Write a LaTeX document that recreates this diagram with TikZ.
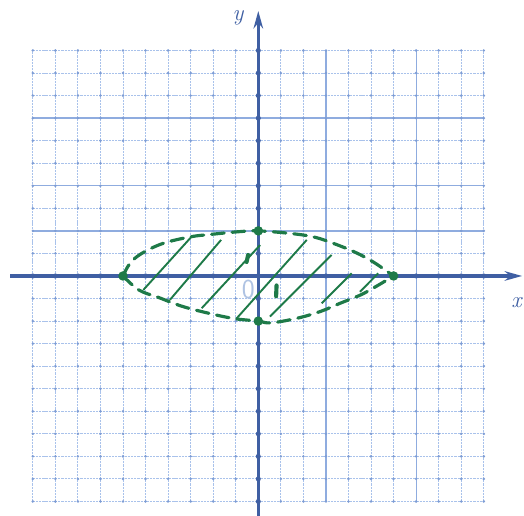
\documentclass[tikz,border=0pt]{standalone}
\usetikzlibrary{arrows.meta}
\definecolor{gridc}{HTML}{A9C2EB}
\definecolor{gridd}{HTML}{8FACDF}
\definecolor{dotc}{HTML}{7E9DD5}
\definecolor{axisc}{HTML}{3F5FA3}
\definecolor{greenc}{HTML}{1E7A48}
\definecolor{zeroc}{HTML}{AFC3E3}
\begin{document}
\begin{tikzpicture}[x=0.5cm,y=0.5cm,
  gridline/.style={gridc, line width=0.6pt, dash pattern=on 1.4pt off 0.6pt},
  gridbold/.style={gridd, line width=0.8pt},
  axisline/.style={axisc, line width=2pt},
  curve/.style={greenc, line width=2pt, dash pattern=on 8pt off 5pt, line cap=round},
  hatch/.style={greenc, line width=1.2pt},
  blob/.style={greenc, line width=2.6pt, line cap=round},
  pt/.style={circle, fill=greenc, inner sep=0pt, minimum size=6pt},
  lbl/.style={axisc, font=\Large\itshape}]
\useasboundingbox (-11.455,-10.643) rectangle (11.783,12.239);
\fill[white] (-11.455,-10.643) rectangle (11.783,12.239);
% grid
\foreach \i in {-10,...,10} {
  \draw[gridline] (\i,-10) -- (\i,10);
  \draw[gridline] (-10,\i) -- (10,\i);
}
\foreach \i in {3,7} { \draw[gridbold] (\i,-10) -- (\i,10); }
\foreach \j in {7,4,2} { \draw[gridbold] (-10,\j) -- (10,\j); }
\foreach \i in {-10,...,10} { \foreach \j in {-10,...,10} {
  \fill[dotc] (\i,\j) circle (0.9pt);
}}
% axes
\coordinate (xl) at (-11.0,0);
\coordinate (xr) at (11.7,0);
\coordinate (yb) at (0,-10.7);
\coordinate (yt) at (0,11.75);
\draw[axisline, -{Stealth[length=11pt,width=6pt]}] (xl) -- (xr);
\draw[axisline, -{Stealth[length=11pt,width=6pt]}] (yb) -- (yt);
\foreach \i in {-10,...,10} {
  \fill[axisc] (\i,0) circle (1.6pt);
  \fill[axisc] (0,\i) circle (1.6pt);
}
\node[lbl] (ylab) at (-0.9,11.45) {y};
\node[lbl] (xlab) at (11.45,-1.2) {x};
\node[zeroc, font=\sffamily\LARGE] (zero) at (-0.44,-0.62) {0};
% dashed boundary
\draw[curve] plot[smooth, tension=0.6] coordinates {
  (-6,0) (-5.69,0.56) (-5.17,1.0) (-4.21,1.45) (-2.98,1.74) (-2.14,1.84)
  (-0.9,1.96) (0,2) (1.48,1.88) (2.5,1.72) (3.4,1.42) (4.3,1.05) (5.1,0.62) (6,0)};
\draw[curve] plot[smooth, tension=0.6] coordinates {
  (-6,0) (-5.3,-0.62) (-4.43,-0.95) (-3.33,-1.36) (-2.0,-1.7) (-1,-1.9)
  (0,-2) (0.55,-2.08) (1.7,-1.88) (2.74,-1.58) (3.63,-1.21) (4.54,-0.84) (5.3,-0.42) (6,0)};
% hatching
\draw[hatch] (-5.10,-0.62) -- (-2.98,1.72);
\draw[hatch] (-3.92,-1.06) -- (-1.65,1.60);
\draw[hatch] (-2.51,-1.43) -- (0.08,1.37);
\draw[hatch] (-0.96,-1.88) -- (2.15,1.60);
\draw[hatch] (0.52,-1.80) -- (3.25,0.93);
\draw[hatch] (2.81,-1.21) -- (4.14,0.12);
\draw[hatch] (4.51,-0.70) -- (5.32,0.12);
\draw[blob] (-0.45,0.93) -- (-0.52,0.62);
\draw[blob] (0.81,-0.42) -- (0.79,-0.90);
% points
\node[pt] (pl) at (-6,0) {};
\node[pt] (pr) at (6,0) {};
\node[pt] (pt) at (0,2) {};
\node[pt] (pb) at (0,-2) {};
\end{tikzpicture}
\end{document}
